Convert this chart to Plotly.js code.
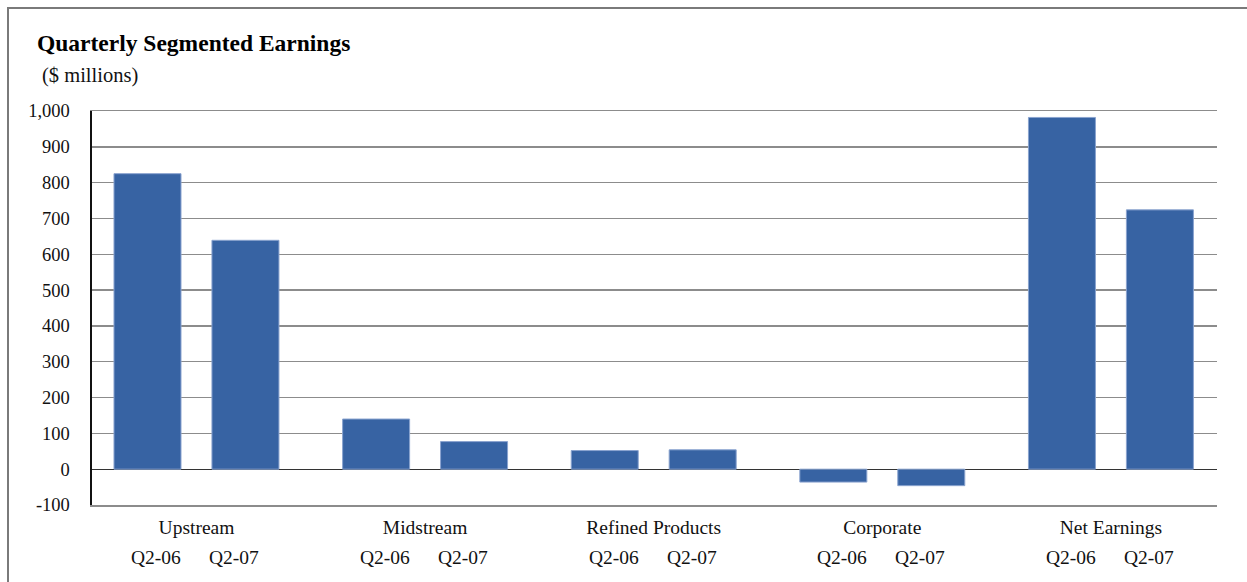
<!DOCTYPE html>
<html>
<head>
<meta charset="utf-8">
<script src="https://cdn.plot.ly/plotly-3.0.1.min.js"></script>
<style>
  html, body { margin: 0; padding: 0; background: #fff; overflow: hidden; }
  #chart { position: absolute; left: 0; top: 0; width: 1247px; height: 582px; }
  #frame { position: absolute; left: 7px; top: 7px; width: 1400px; height: 800px;
           border-left: 2px solid #7a7a7a; border-top: 2px solid #7a7a7a; pointer-events: none; }
</style>
</head>
<body>
<div id="chart"></div>
<div id="frame"></div>
<script>
const segments = ["Upstream", "Midstream", "Refined Products", "Corporate", "Net Earnings"];
const quarters = ["Q2-06", "Q2-07"];
const q2_06 = [825, 140, 52, -36, 982];
const q2_07 = [639, 77, 54, -46, 724];
const yTicks = [-100, 0, 100, 200, 300, 400, 500, 600, 700, 800, 900, 1000];
const yTickText = ["-100", "0", "100", "200", "300", "400", "500", "600", "700", "800", "900", "1,000"];

const serif = "Liberation Serif, Times New Roman, serif";
const barColor = "#3763a3";
const bargap = 0.143;
const bargroupgap = 0.316;

const series = [q2_06, q2_07];
const traces = series.map((vals, i) => ({
  type: "bar",
  name: quarters[i],
  x: segments,
  y: vals,
  marker: { color: barColor, line: { color: "#8aa3cf", width: 1 } },
  hoverinfo: "x+y"
}));

const xRange = [-0.457, 4.464];
const plotWidth = 1247 - 92 - 30;
const labelShift = [-40, 38];

const annotations = [];
segments.forEach(seg => {
  quarters.forEach((q, qi) => {
    annotations.push({
      x: seg, xref: "x", y: 0, yref: "paper",
      xshift: labelShift[qi],
      yshift: -52,
      text: q, showarrow: false,
      xanchor: "center", yanchor: "middle",
      font: { family: serif, size: 19.5, color: "#111" }
    });
  });
});
annotations.push({
  text: "<b>Quarterly Segmented Earnings</b>",
  xref: "paper", yref: "paper", x: -57 / plotWidth, y: 1, yshift: 68,
  xanchor: "left", yanchor: "middle", showarrow: false,
  font: { family: serif, size: 23.5, color: "#000" }
});
annotations.push({
  text: "($ millions)",
  xref: "paper", yref: "paper", x: -52 / plotWidth, y: 1, yshift: 36,
  xanchor: "left", yanchor: "middle", showarrow: false,
  font: { family: serif, size: 20.5, color: "#111" }
});

const layout = {
  width: 1247, height: 582,
  margin: { l: 92, r: 30, t: 111, b: 77 },
  paper_bgcolor: "rgba(0,0,0,0)",
  plot_bgcolor: "#fff",
  showlegend: false,
  barmode: "group",
  bargap: bargap,
  bargroupgap: bargroupgap,
  xaxis: {
    type: "category",
    range: xRange,
    showgrid: false,
    zeroline: false,
    showline: true,
    mirror: true,
    linecolor: "#8c8c8c",
    linewidth: 1.5,
    ticks: "",
    tickfont: { family: serif, size: 19.5, color: "#111" },
    ticklabelstandoff: 4,
    fixedrange: true
  },
  yaxis: {
    range: [-100, 1000],
    tickvals: yTicks,
    ticktext: yTickText,
    showgrid: true,
    gridcolor: "#8c8c8c",
    gridwidth: 1.5,
    zeroline: true,
    zerolinecolor: "#333",
    zerolinewidth: 1.2,
    showline: true,
    linecolor: "#111",
    linewidth: 2.5,
    ticks: "",
    ticklabelstandoff: 16,
    tickfont: { family: serif, size: 18.5, color: "#111" },
    fixedrange: true
  },
  annotations: annotations
};

Plotly.newPlot("chart", traces, layout, { displayModeBar: false, staticPlot: true });
</script>
</body>
</html>
